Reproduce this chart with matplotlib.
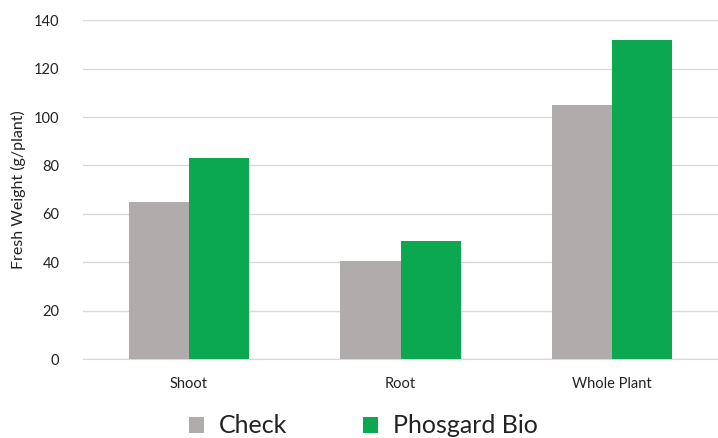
import numpy as np
import matplotlib.pyplot as plt

categories = ['Shoot', 'Root', 'Whole Plant']
check = [65, 40.5, 105]
phosgard = [83, 49, 132]

plt.rcParams['font.family'] = ['Lato', 'DejaVu Sans']

fig = plt.figure(figsize=(7.18, 4.38), dpi=100)
ax = fig.add_axes([0.1156, 0.18, 0.8844, 0.774])

x = np.arange(len(categories))
w = 0.285
ax.bar(x - w / 2, check, w, color='#B0ACAB', label='Check', zorder=3)
ax.bar(x + w / 2, phosgard, w, color='#0BA84F', label='Phosgard Bio', zorder=3)

ax.set_xlim(-0.5, 2.5)
ax.set_ylim(0, 140)
ax.set_yticks(range(0, 141, 20))
ax.set_xticks(x)
ax.set_xticklabels(categories)
ax.yaxis.grid(True, color='#D9D9D9', linewidth=1, zorder=0)
for s in ['top', 'right', 'left']:
    ax.spines[s].set_visible(False)
ax.spines['bottom'].set_color('#D9D9D9')
ax.tick_params(axis='both', length=0, labelsize=10.5, colors='#222222')
ax.tick_params(axis='x', pad=13)
ax.tick_params(axis='y', pad=17)
ax.set_ylabel('Fresh Weight (g/plant)', fontsize=11.5, color='#222222')
ax.yaxis.set_label_coords(-0.09, 0.5)

fig.legend(loc='lower center', bbox_to_anchor=(0.506, -0.05), ncol=2, frameon=False,
           fontsize=18, handlelength=0.6, handleheight=0.6, columnspacing=3.0,
           handletextpad=0.6, labelcolor='#222222')

fig.savefig('out.png', dpi=100)
